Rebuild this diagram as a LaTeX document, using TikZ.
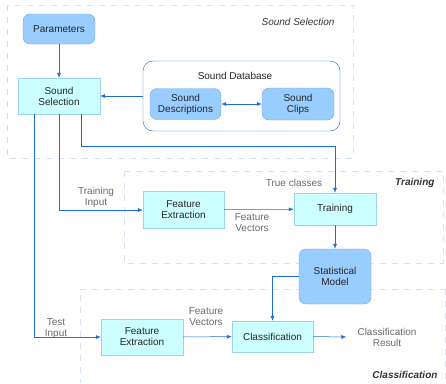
\documentclass[tikz,border=0pt]{standalone}
\usepackage{fontspec}
\setmainfont{Liberation Sans}
\usetikzlibrary{arrows.meta}

\definecolor{linecol}{HTML}{1F6FD2}
\definecolor{regioncol}{HTML}{D3E3F5}
\definecolor{bluefill}{HTML}{99CCFF}
\definecolor{blueedge}{HTML}{6FA8E8}
\definecolor{cyanfill}{HTML}{CCFFFF}
\definecolor{cyanedge}{HTML}{9AD3F2}
\definecolor{labelcol}{HTML}{6A6A6A}

\tikzset{
  store/.style={draw=blueedge,fill=bluefill,rounded corners=7pt,align=center,
    text=black!85,inner sep=0pt},
  proc/.style={draw=cyanedge,fill=cyanfill,align=center,text=black!85,inner sep=0pt},
  flow/.style={draw=linecol,line width=.5pt,-{Latex[length=5pt,width=4pt]}},
  region/.style={draw=regioncol,line width=.6pt,dash pattern=on 6pt off 6pt},
  note/.style={text=labelcol,align=center,inner sep=1pt},
  title/.style={text=black!80,font=\itshape\fontsize{10}{11}\selectfont}
}

\begin{document}
\begin{tikzpicture}[x=1pt,y=-1pt,font=\fontsize{10}{11}\selectfont]
      \useasboundingbox (0,0) rectangle (446,383);

      % dashed regions
      \draw[region] (7,5) rectangle (353,158);
      \draw[region] (124,171) rectangle (443,263);
      \draw[region] (446,289) -- (80,289) -- (80,383);
      \draw[region] (445,289) -- (445,383);

      \node[title,anchor=east] (tsel) at (338,22) {Sound Selection};
      \node[title,font=\bfseries\itshape\fontsize{10}{11}\selectfont,anchor=east] (ttrain) at (438,183) {Training};
      \node[title,font=\bfseries\itshape\fontsize{10}{11}\selectfont,anchor=east] (tclass) at (441,375) {Classification};

      % sound selection
      \node[store,minimum width=72pt,minimum height=30pt] (par) at (59,29) {Parameters};
      \node[proc,minimum width=82pt,minimum height=36pt] (sel) at (59,96) {Sound\\Selection};

      \node[draw=linecol,rounded corners=10pt,minimum width=197pt,minimum height=70pt] (db) at (241.5,96) {};
      \node[text=black!85] (dbname) at (235,76) {Sound Database};
      \node[store,minimum width=71pt,minimum height=31pt] (desc) at (185.5,104) {Sound\\Descriptions};
      \node[store,minimum width=72pt,minimum height=32pt] (clips) at (298,104) {Sound\\Clips};

      % training
      \node[proc,minimum width=81pt,minimum height=37pt] (fe1) at (183.5,210) {Feature\\Extraction};
      \node[proc,minimum width=82pt,minimum height=32pt] (train) at (335,209) {Training};
      \node[store,minimum width=72pt,minimum height=55pt] (stat) at (335,276.5) {Statistical\\Model};

      % classification
      \node[proc,minimum width=82pt,minimum height=36pt] (fe2) at (142,337) {Feature\\Extraction};
      \node[proc,minimum width=81pt,minimum height=31pt] (cls) at (272.5,336.5) {Classification};
      \node[note] (res) at (387,337) {Classification\\Result};

      \node[note] (ltrain) at (96,197) {Training\\Input};
      \node[note] (ltest) at (56,329) {Test\\Input};
      \node[note] (lfv1) at (252,223) {Feature\\Vectors};
      \node[note] (lfv2) at (206,317) {Feature\\Vectors};
      \node[note] (ltrue) at (294,183) {True classes};

      \draw[flow] (par) -- (sel);
      \draw[flow] (db.west) -- (sel.east);
      \draw[flow,{Latex[length=5pt,width=4pt]}-{Latex[length=5pt,width=4pt]}] (desc) -- (clips);

      \draw[flow] ([xshift=-25pt]sel.south) |- (fe2.west);
      \draw[flow] (sel.south) |- (fe1.west);
      \draw[flow] ([xshift=22pt]sel.south) -- ++(0,32) -| (train.north);

      \draw[flow] (fe1) -- (train);
      \draw[flow] (train) -- (stat);
      \draw[flow] (stat.west) -| (cls.north);
      \draw[flow] (fe2) -- (cls);
      \draw[flow] (cls.east) -- ([xshift=-10pt]res.west);
    \end{tikzpicture}
\end{document}
